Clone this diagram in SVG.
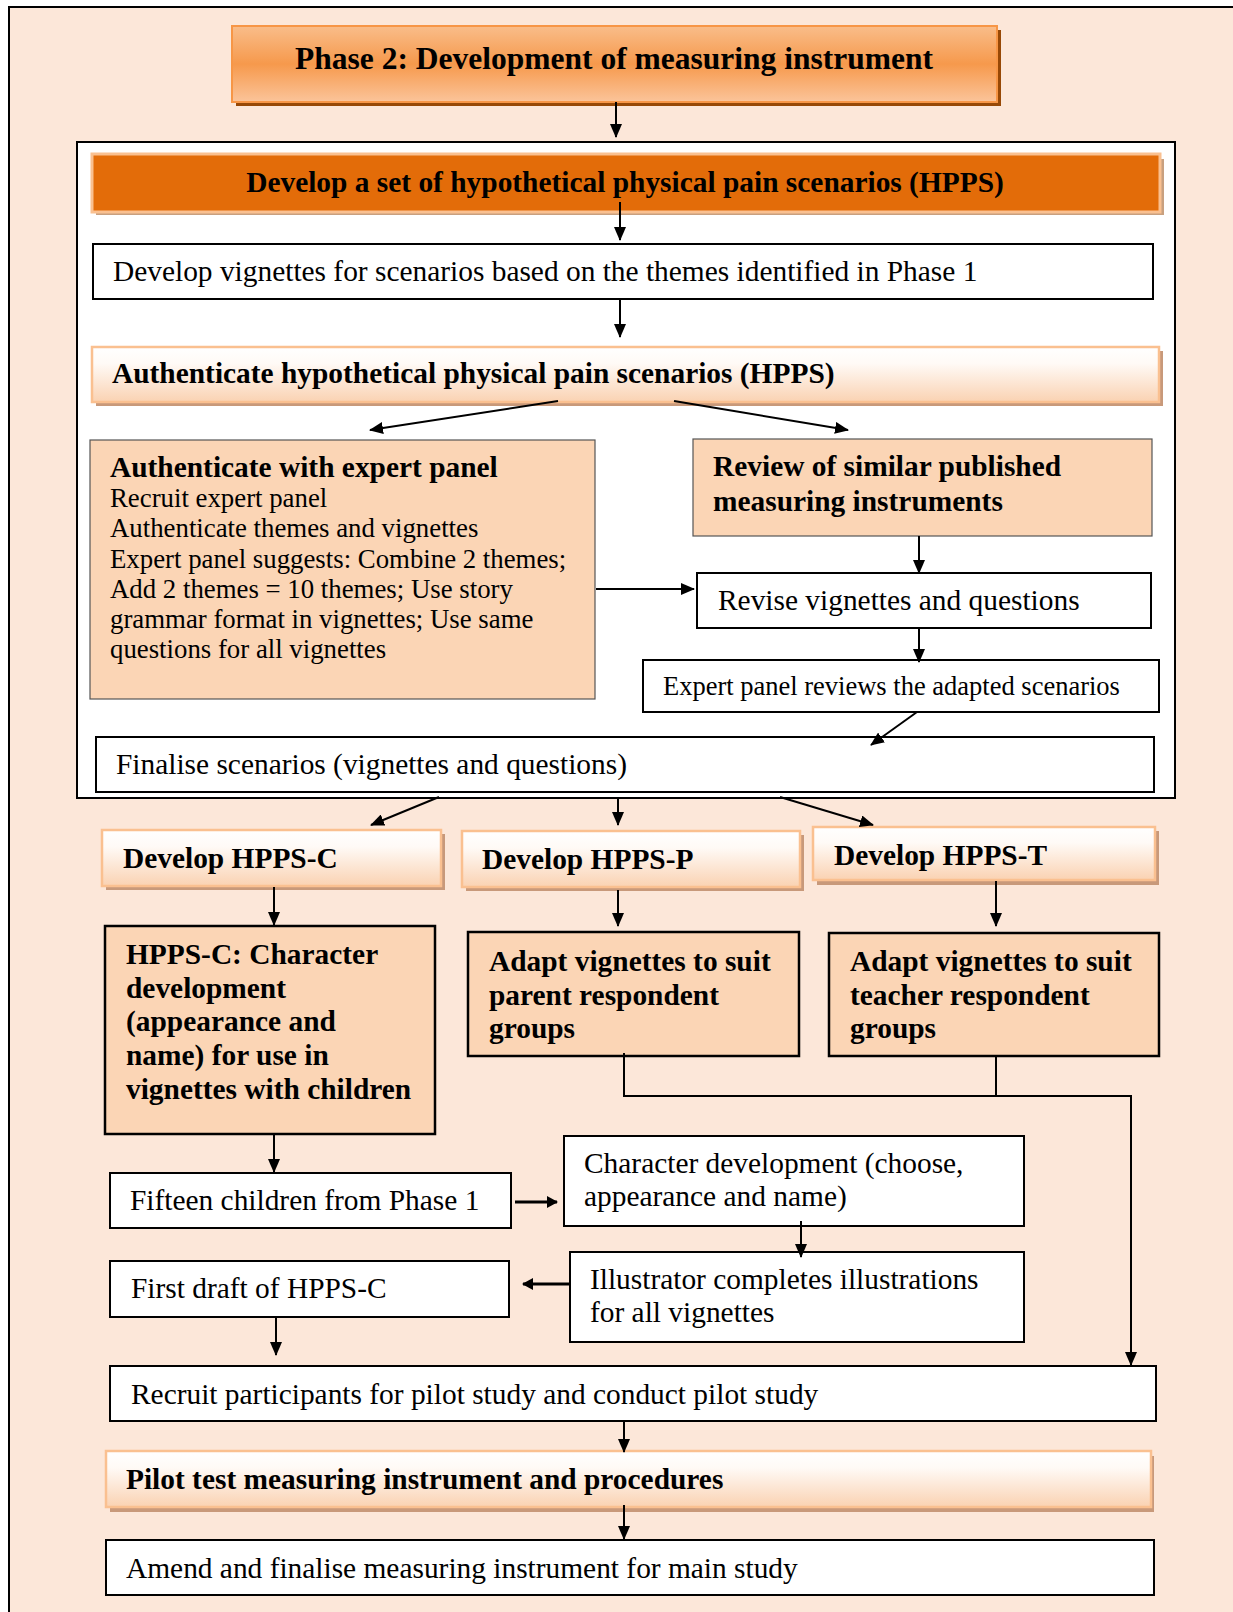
<svg xmlns="http://www.w3.org/2000/svg" width="1233" height="1612" viewBox="0 0 1233 1612">
<defs>
<linearGradient id="gPhase" x1="0" y1="0" x2="0" y2="1">
<stop offset="0" stop-color="#f9bd8a"/><stop offset="0.5" stop-color="#f6994c"/><stop offset="1" stop-color="#fbc49a"/>
</linearGradient>
<linearGradient id="gLight" x1="0" y1="0" x2="0" y2="1">
<stop offset="0" stop-color="#ffffff"/><stop offset="0.3" stop-color="#fffaf6"/><stop offset="1" stop-color="#fad2b2"/>
</linearGradient>
<marker id="ah" markerWidth="14" markerHeight="12" refX="13" refY="6" orient="auto" markerUnits="userSpaceOnUse">
<path d="M0,0 L14,6 L0,12 Z" fill="#000"/>
</marker>
<marker id="ahs" markerWidth="11" markerHeight="12" refX="10" refY="6" orient="auto" markerUnits="userSpaceOnUse">
<path d="M0,0 L11,6 L0,12 Z" fill="#000"/>
</marker>
</defs>
<style>
text{font-family:"Liberation Serif","Times New Roman",serif;fill:#000}
.b{font-weight:bold}
.t29{font-size:29.4px}
.t27{font-size:26.8px}
.t26{font-size:26.5px}
.wbox{fill:#fff;stroke:#000;stroke-width:2}
.pbox{fill:#fbd5b5;stroke:#000;stroke-width:2.5}
.pthin{fill:#fbd5b5;stroke:#555;stroke-width:1.2}
.lbox{fill:url(#gLight);stroke:#fac090;stroke-width:2.5}
.shadow{fill:#c8997a}
.conn{stroke:#000;stroke-width:2;fill:none}
.arr{stroke:#000;stroke-width:2;fill:none;marker-end:url(#ah)}
.arrs{stroke:#000;stroke-width:3;fill:none;marker-end:url(#ahs)}
</style>
<rect x="9" y="7" width="1230" height="1610" fill="#fce7d9" stroke="#000" stroke-width="2"/>

<g id="phase2">
<rect x="236" y="30" width="765" height="76" fill="#974806"/>
<rect x="232" y="26" width="765" height="76" fill="url(#gPhase)" stroke="#f79646" stroke-width="2"/>
<text x="614" y="69" class="b" font-size="31.5" text-anchor="middle">Phase 2: Development of measuring instrument</text>
</g>

<g id="container">
<rect x="77" y="142" width="1098" height="656" fill="#fff" stroke="#000" stroke-width="2"/>
</g>

<g id="develop-set">
<rect x="96" y="159" width="1068" height="56" fill="#c9a07f"/>
<rect x="92" y="154" width="1068" height="58" fill="#e36c09" stroke="#fac090" stroke-width="3"/>
<text x="625" y="192" class="b t29" text-anchor="middle">Develop a set of hypothetical physical pain scenarios (HPPS)</text>
</g>

<g id="develop-vignettes">
<rect x="93" y="244" width="1060" height="55" class="wbox"/>
<text x="113" y="281" class="t29">Develop vignettes for scenarios based on the themes identified in Phase 1</text>
</g>

<g id="authenticate-hpps">
<rect x="96" y="351" width="1067" height="55" class="shadow"/>
<rect x="92" y="347" width="1067" height="55" class="lbox"/>
<text x="112" y="383" class="b t29">Authenticate hypothetical physical pain scenarios (HPPS)</text>
</g>

<g id="expert-panel">
<rect x="90" y="440" width="505" height="259" class="pthin"/>
<text x="110" y="477" class="b t29">Authenticate with expert panel</text>
<text class="t27">
<tspan x="110" y="507">Recruit expert panel</tspan>
<tspan x="110" y="537">Authenticate themes and vignettes</tspan>
<tspan x="110" y="568">Expert panel suggests: Combine 2 themes;</tspan>
<tspan x="110" y="598">Add 2 themes = 10 themes; Use story</tspan>
<tspan x="110" y="628">grammar format in vignettes; Use same</tspan>
<tspan x="110" y="658">questions for all vignettes</tspan>
</text>
</g>

<g id="review">
<rect x="693" y="439" width="459" height="97" class="pthin"/>
<text class="b t29">
<tspan x="713" y="476">Review of similar published</tspan>
<tspan x="713" y="511">measuring instruments</tspan>
</text>
</g>

<g id="revise">
<rect x="697" y="573" width="454" height="55" class="wbox"/>
<text x="718" y="610" class="t29">Revise vignettes and questions</text>
</g>

<g id="expert-reviews">
<rect x="643" y="660" width="516" height="52" class="wbox"/>
<text x="663" y="695" class="t26">Expert panel reviews the adapted scenarios</text>
</g>

<g id="finalise">
<rect x="96" y="737" width="1058" height="55" class="wbox"/>
<text x="116" y="774" class="t29">Finalise scenarios (vignettes and questions)</text>
</g>

<g id="hpps-c">
<rect x="106" y="834" width="339" height="56" class="shadow"/>
<rect x="102" y="830" width="339" height="56" class="lbox"/>
<text x="123" y="868" class="b t29">Develop HPPS-C</text>
</g>

<g id="hpps-p">
<rect x="466" y="835" width="338" height="56" class="shadow"/>
<rect x="462" y="831" width="338" height="56" class="lbox"/>
<text x="482" y="869" class="b t29">Develop HPPS-P</text>
</g>

<g id="hpps-t">
<rect x="817" y="831" width="342" height="54" class="shadow"/>
<rect x="813" y="827" width="342" height="53" class="lbox"/>
<text x="834" y="865" class="b t29">Develop HPPS-T</text>
</g>

<g id="hpps-c-character">
<rect x="105" y="926" width="330" height="208" class="pbox"/>
<text class="b t29">
<tspan x="126" y="964">HPPS-C: Character</tspan>
<tspan x="126" y="998">development</tspan>
<tspan x="126" y="1031">(appearance and</tspan>
<tspan x="126" y="1065">name) for use in</tspan>
<tspan x="126" y="1099">vignettes with children</tspan>
</text>
</g>

<g id="adapt-parent">
<rect x="468" y="932" width="331" height="124" class="pbox"/>
<text class="b t29">
<tspan x="489" y="971">Adapt vignettes to suit</tspan>
<tspan x="489" y="1005">parent respondent</tspan>
<tspan x="489" y="1038">groups</tspan>
</text>
</g>

<g id="adapt-teacher">
<rect x="829" y="933" width="330" height="123" class="pbox"/>
<text class="b t29">
<tspan x="850" y="971">Adapt vignettes to suit</tspan>
<tspan x="850" y="1005">teacher respondent</tspan>
<tspan x="850" y="1038">groups</tspan>
</text>
</g>

<g id="fifteen">
<rect x="110" y="1173" width="401" height="55" class="wbox"/>
<text x="130" y="1210" class="t29">Fifteen children from Phase 1</text>
</g>

<g id="character-dev">
<rect x="564" y="1136" width="460" height="90" class="wbox"/>
<text class="t29">
<tspan x="584" y="1173">Character development (choose,</tspan>
<tspan x="584" y="1206">appearance and name)</tspan>
</text>
</g>

<g id="illustrator">
<rect x="570" y="1252" width="454" height="90" class="wbox"/>
<text class="t29">
<tspan x="590" y="1289">Illustrator completes illustrations</tspan>
<tspan x="590" y="1322">for all vignettes</tspan>
</text>
</g>

<g id="first-draft">
<rect x="110" y="1261" width="399" height="56" class="wbox"/>
<text x="131" y="1298" class="t29">First draft of HPPS-C</text>
</g>

<g id="recruit">
<rect x="110" y="1366" width="1046" height="55" class="wbox"/>
<text x="131" y="1404" class="t29">Recruit participants for pilot study and conduct pilot study</text>
</g>

<g id="pilot">
<rect x="110" y="1456" width="1044" height="56" class="shadow"/>
<rect x="106" y="1451" width="1045" height="56" class="lbox"/>
<text x="126" y="1489" class="b t29">Pilot test measuring instrument and procedures</text>
</g>

<g id="amend">
<rect x="106" y="1540" width="1048" height="55" class="wbox" stroke-width="2.5"/>
<text x="126" y="1578" class="t29">Amend and finalise measuring instrument for main study</text>
</g>

<g id="connectors">
<line x1="616" y1="102" x2="616" y2="137" class="arr"/>
<line x1="620" y1="202" x2="620" y2="240" class="arr"/>
<line x1="620" y1="299" x2="620" y2="337" class="arr"/>
<line x1="558" y1="401" x2="370" y2="430" class="arr"/>
<line x1="674" y1="401" x2="848" y2="430" class="arr"/>
<line x1="919" y1="536" x2="919" y2="573" class="arr"/>
<line x1="596" y1="589" x2="694" y2="589" class="arr"/>
<line x1="919" y1="628" x2="919" y2="662" class="arr"/>
<line x1="917" y1="712" x2="871" y2="745" class="arr"/>
<line x1="439" y1="797" x2="371" y2="825" class="arr"/>
<line x1="618" y1="797" x2="618" y2="825" class="arr"/>
<line x1="780" y1="797" x2="873" y2="825" class="arr"/>
<line x1="274" y1="887" x2="274" y2="925" class="arr"/>
<line x1="618" y1="890" x2="618" y2="926" class="arr"/>
<line x1="996" y1="881" x2="996" y2="926" class="arr"/>
<polyline points="624,1053 624,1096 1131,1096 1131,1365" class="arr"/>
<line x1="996" y1="1056" x2="996" y2="1096" class="conn"/>
<line x1="274" y1="1134" x2="274" y2="1172" class="arr"/>
<line x1="515" y1="1202" x2="557" y2="1202" class="arrs"/>
<line x1="801" y1="1221" x2="801" y2="1257" class="arr"/>
<line x1="570" y1="1284" x2="523" y2="1284" class="arrs"/>
<line x1="276" y1="1317" x2="276" y2="1355" class="arr"/>
<line x1="624" y1="1421" x2="624" y2="1452" class="arr"/>
<line x1="624" y1="1505" x2="624" y2="1539" class="arr"/>
</g>
</svg>
